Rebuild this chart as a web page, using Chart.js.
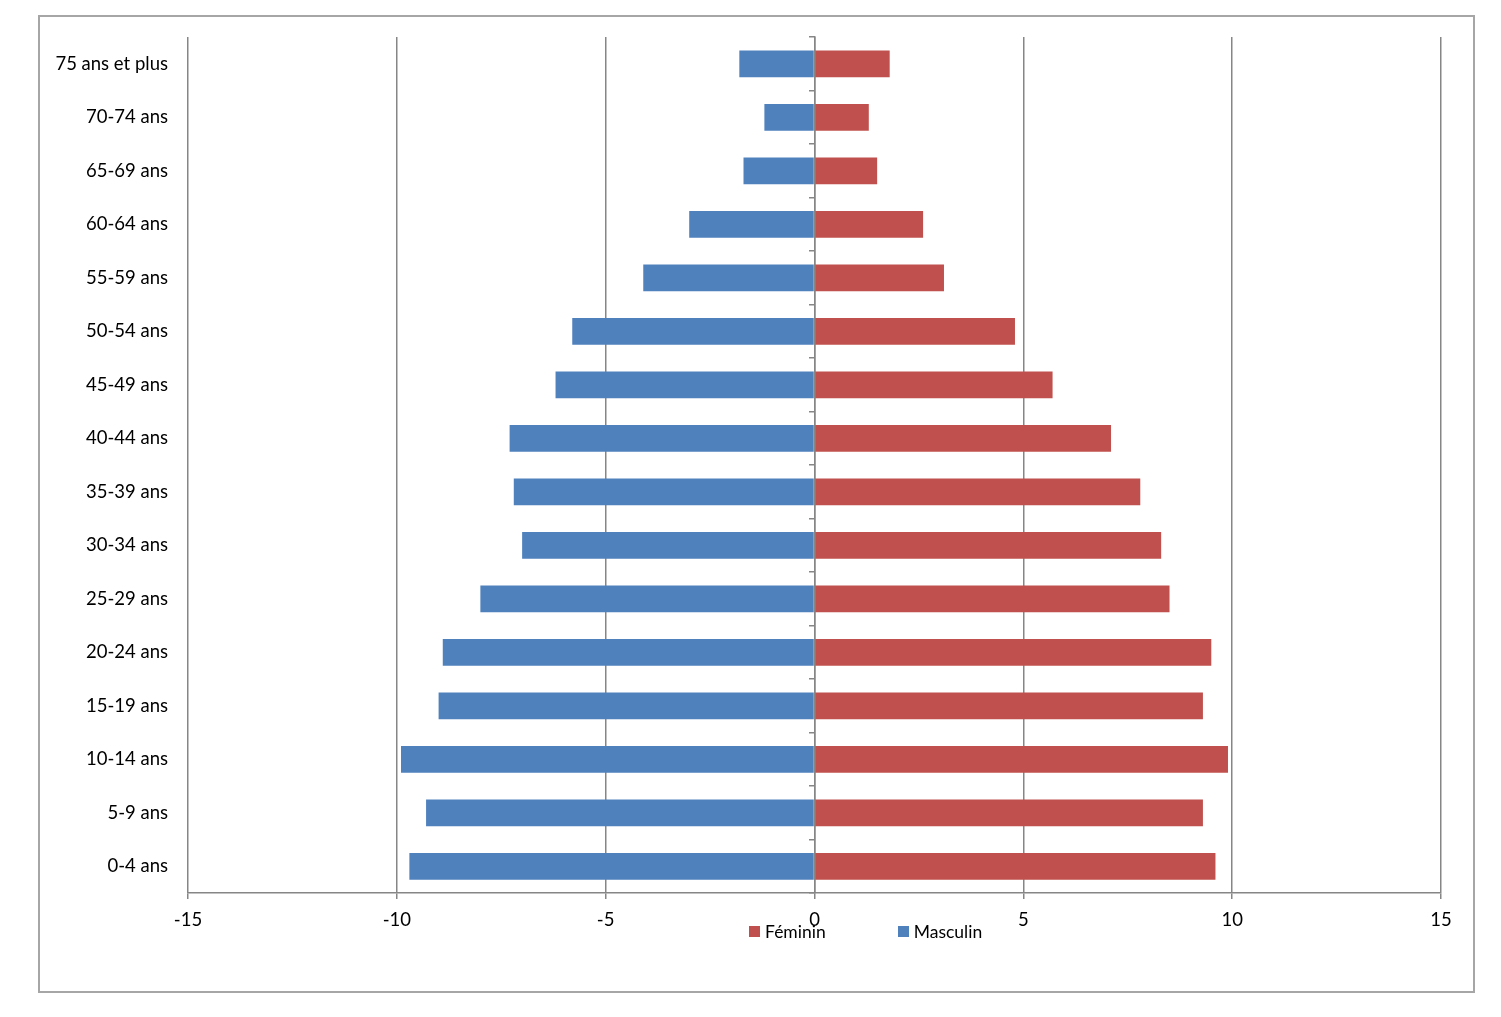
<!DOCTYPE html>
<html>
<head>
<meta charset="utf-8">
<script src="https://cdn.jsdelivr.net/npm/chart.js@4/dist/chart.umd.min.js"></script>
<style>
  body { margin: 0; background: #fff; font-family: Lato, "Open Sans", sans-serif; }
  #frame {
    position: absolute; left: 38px; top: 15px; width: 1437px; height: 978px;
    box-sizing: border-box; border: 2px solid #a6a6a6; background: #fff;
  }
  #frame canvas { display: block; }
  #legend {
    position: absolute; left: 749px; top: 921px; display: flex; align-items: center;
    font-size: 17.5px; color: #000; white-space: nowrap;
  }
  .item { display: flex; align-items: center; }
  .item + .item { margin-left: 72px; }
  .box { width: 11px; height: 11px; margin-right: 5px; }
</style>
</head>
<body>
<div id="frame"><canvas id="pyramid"></canvas></div>
<div id="legend"></div>
<script>
const ageGroups = [
  "75 ans et plus", "70-74 ans", "65-69 ans", "60-64 ans", "55-59 ans",
  "50-54 ans", "45-49 ans", "40-44 ans", "35-39 ans", "30-34 ans",
  "25-29 ans", "20-24 ans", "15-19 ans", "10-14 ans", "5-9 ans", "0-4 ans",
];

const masculin = [-1.8, -1.2, -1.7, -3.0, -4.1, -5.8, -6.2, -7.3, -7.2, -7.0, -8.0, -8.9, -9.0, -9.9, -9.3, -9.7];
const feminin = [1.8, 1.3, 1.5, 2.6, 3.1, 4.8, 5.7, 7.1, 7.8, 8.3, 8.5, 9.5, 9.3, 9.9, 9.3, 9.6];

const xMin = -15, xMax = 15, xStep = 5;

const blue = "#4f81bd";
const red = "#c0504d";
const axisGray = "#868686";
const font = { family: "Lato, 'Open Sans', sans-serif", size: 18.5 };

const datasets = [
  { label: "Féminin", data: feminin, backgroundColor: red },
  { label: "Masculin", data: masculin, backgroundColor: blue },
];

// legend as html under the axis (overlaps tick labels like the original)
const legendEl = document.getElementById("legend");
datasets.forEach(ds => {
  const item = document.createElement("span");
  item.className = "item";
  const box = document.createElement("span");
  box.className = "box";
  box.style.background = ds.backgroundColor;
  item.appendChild(box);
  item.appendChild(document.createTextNode(ds.label));
  legendEl.appendChild(item);
});

const ctx = document.getElementById("pyramid").getContext("2d");
const pyramidChart = new Chart(ctx, {
  type: "bar",
  data: {
    labels: ageGroups,
    datasets: datasets.map(ds => ({
      label: ds.label,
      data: ds.data,
      backgroundColor: ds.backgroundColor,
      borderWidth: 0,
      categoryPercentage: 1,
      barPercentage: 0.5,
    })),
  },
  options: {
    indexAxis: "y",
    responsive: true,
    maintainAspectRatio: false,
    animation: false,
    layout: { padding: { top: 20, right: 32, bottom: 0, left: 0 } },
    scales: {
      x: {
        stacked: true,
        min: xMin,
        max: xMax,
        ticks: { stepSize: xStep, color: "#000", font: font, padding: 10 },
        grid: { color: axisGray, tickLength: 6, lineWidth: 1.5 },
        border: { color: axisGray, width: 1.5 },
        afterFit: function(scale) { scale.height = 98; },
      },
      y: {
        stacked: true,
        ticks: { color: "#000", font: font, padding: 12 },
        grid: { display: false },
        border: { display: false },
        afterFit: function(scale) {
          scale.width = 148;
          scale.paddingTop = 0;
          scale.paddingBottom = 0;
        },
      },
      yCenter: {
        type: "category",
        labels: ageGroups,
        position: { x: 0 },
        offset: true,
        ticks: { display: false },
        grid: { offset: true, drawOnChartArea: false, tickLength: 5, color: axisGray, lineWidth: 1.5 },
        border: { display: true, color: axisGray, width: 1.5 },
        afterFit: function(scale) {
          scale.paddingTop = 0;
          scale.paddingBottom = 0;
        },
      },
    },
    plugins: {
      legend: { display: false },
      tooltip: { enabled: false },
    },
  },
});
</script>
</body>
</html>
